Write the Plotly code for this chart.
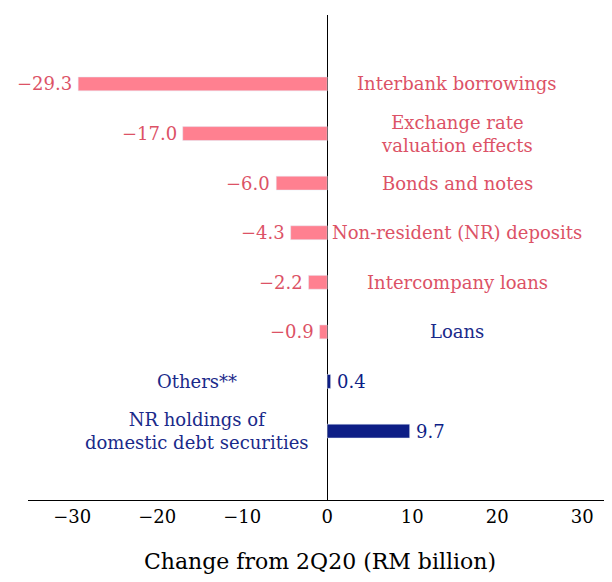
import plotly.graph_objects as go

categories = ["Interbank borrowings", "Exchange rate<br>valuation effects", "Bonds and notes",
              "Non-resident (NR) deposits", "Intercompany loans", "Loans", "Others**",
              "NR holdings of<br>domestic debt securities"]
values = [-29.3, -17.0, -6.0, -4.3, -2.2, -0.9, 0.4, 9.7]
label_colors = ["#DC5266"] * 5 + ["#1A2A8A"] * 3

PINK, NAVY = "#FF8090", "#0D1E86"
ys = list(range(len(values)))
fig = go.Figure(go.Bar(x=values, y=ys, orientation="h", width=0.28,
                       marker_color=[PINK if v < 0 else NAVY for v in values],
                       hoverinfo="skip"))
ann = []
for y, v, c, col in zip(ys, values, categories, label_colors):
    vtxt = f"{v:.1f}".replace("-", "−")
    ann.append(dict(x=v, y=y, text=vtxt, showarrow=False,
                    xanchor="right" if v < 0 else "left", xshift=-4 if v < 0 else 4,
                    font=dict(color="#DC5266" if v < 0 else NAVY)))
    ann.append(dict(x=15.3 if v < 0 else -15.3, y=y, text=c, showarrow=False,
                    xanchor="center", font=dict(color=col)))
fig.update_layout(
    width=604, height=574, margin=dict(l=20, r=0, t=7, b=82),
    plot_bgcolor="white", paper_bgcolor="white", showlegend=False,
    font=dict(family="DejaVu Serif", size=18, color="black"),
    annotations=ann,
    xaxis=dict(range=[-35.2, 33.5], tickvals=[-30, -20, -10, 0, 10, 20, 30], automargin=False,
               showgrid=False, zeroline=True, zerolinecolor="black", zerolinewidth=1,
               showline=True, linecolor="black", ticks="", ticklen=0,
               title=dict(text="Change from 2Q20 (RM billion)", standoff=28)),
    yaxis=dict(range=[8.39, -1.39], showticklabels=False, showgrid=False, automargin=False,
               zeroline=False, showline=False),
)
fig.write_html("out.html")
